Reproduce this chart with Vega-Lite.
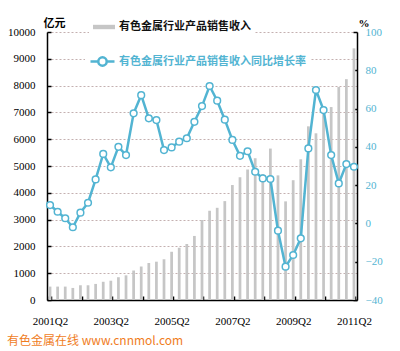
{
  "$schema": "https://vega.github.io/schema/vega-lite/v6.json",
  "width": 310,
  "height": 268,
  "autosize": {"type": "none"},
  "padding": {"left": 47, "top": 32, "right": 43, "bottom": 51},
  "background": "white",
  "config": {
    "view": {"stroke": null},
    "font": "Liberation Sans Narrow",
    "axis": {"labelFont": "Liberation Sans Narrow", "labelFontSize": 11, "domainColor": "#000000", "tickColor": "#000000", "domainWidth": 1.5, "tickWidth": 1.5, "labelColor": "#000000"}
  },
  "data": {
    "values": [
      {"q": "2001Q2", "rev": 500, "g": 9.6},
      {"q": "2001Q3", "rev": 500, "g": 6.1},
      {"q": "2001Q4", "rev": 500, "g": 2.7},
      {"q": "2002Q1", "rev": 450, "g": -2},
      {"q": "2002Q2", "rev": 550, "g": 5.6},
      {"q": "2002Q3", "rev": 550, "g": 10.8},
      {"q": "2002Q4", "rev": 600, "g": 23},
      {"q": "2003Q1", "rev": 680, "g": 36.3},
      {"q": "2003Q2", "rev": 720, "g": 29.3},
      {"q": "2003Q3", "rev": 850, "g": 40},
      {"q": "2003Q4", "rev": 920, "g": 35.7},
      {"q": "2004Q1", "rev": 1100, "g": 57.5},
      {"q": "2004Q2", "rev": 1250, "g": 67},
      {"q": "2004Q3", "rev": 1380, "g": 54.9},
      {"q": "2004Q4", "rev": 1430, "g": 54},
      {"q": "2005Q1", "rev": 1520, "g": 38.3},
      {"q": "2005Q2", "rev": 1800, "g": 39.7},
      {"q": "2005Q3", "rev": 1950, "g": 42.7},
      {"q": "2005Q4", "rev": 2090, "g": 44.5},
      {"q": "2006Q1", "rev": 2390, "g": 53.1},
      {"q": "2006Q2", "rev": 2985, "g": 61.3},
      {"q": "2006Q3", "rev": 3330, "g": 71.8},
      {"q": "2006Q4", "rev": 3440, "g": 64.1},
      {"q": "2007Q1", "rev": 3690, "g": 54.2},
      {"q": "2007Q2", "rev": 4290, "g": 43.6},
      {"q": "2007Q3", "rev": 4580, "g": 35.3},
      {"q": "2007Q4", "rev": 4870, "g": 37.7},
      {"q": "2008Q1", "rev": 5290, "g": 27},
      {"q": "2008Q2", "rev": 4700, "g": 23.5},
      {"q": "2008Q3", "rev": 5650, "g": 23.2},
      {"q": "2008Q4", "rev": 4650, "g": -3.8},
      {"q": "2009Q1", "rev": 3680, "g": -22.6},
      {"q": "2009Q2", "rev": 4470, "g": -16.5},
      {"q": "2009Q3", "rev": 5250, "g": -7.8},
      {"q": "2009Q4", "rev": 6480, "g": 39.2},
      {"q": "2010Q1", "rev": 6220, "g": 69.7},
      {"q": "2010Q2", "rev": 7150, "g": 59.2},
      {"q": "2010Q3", "rev": 7200, "g": 35.7},
      {"q": "2010Q4", "rev": 7950, "g": 20.9},
      {"q": "2011Q1", "rev": 8240, "g": 31},
      {"q": "2011Q2", "rev": 9390, "g": 29.6}
    ]
  },
  "title": {
    "text": "有色金属在线  www.cnnmol.com",
    "orient": "bottom",
    "anchor": "start",
    "frame": "group",
    "dx": -40,
    "offset": 10,
    "color": "#f07d1e",
    "font": "Noto Sans CJK SC",
    "fontSize": 12,
    "fontWeight": "normal"
  },
  "encoding": {
    "x": {
      "field": "q",
      "type": "ordinal",
      "sort": null,
      "scale": {"paddingInner": 0.64, "paddingOuter": 0.22},
      "axis": {
        "title": null,
        "values": ["2001Q2","2002Q2","2003Q2","2004Q2","2005Q2","2006Q2","2007Q2","2008Q2","2009Q2","2010Q2","2011Q2"],
        "labelExpr": "toNumber(substring(datum.value,0,4)) % 2 == 1 ? datum.value : ''",
        "tickBand": "extent",
        "labelAngle": 0,
        "tickSize": -4,
        "labelPadding": 19,
        "grid": false
      }
    }
  },
  "layer": [
    {
      "mark": {"type": "bar"},
      "encoding": {
        "y": {
          "field": "rev",
          "type": "quantitative",
          "scale": {"domain": [0, 10000], "nice": false},
          "axis": {
            "title": "亿元",
            "titleAngle": 0,
            "titleAlign": "left",
            "titleBaseline": "bottom",
            "titleX": -4,
            "titleY": -4,
            "titleFont": "Noto Sans CJK SC",
            "titleFontSize": 11,
            "titleFontWeight": "bold",
            "format": "d",
            "values": [0,1000,2000,3000,4000,5000,6000,7000,8000,9000,10000],
            "tickSize": -4,
            "labelPadding": 16,
            "grid": true,
            "gridDash": [2, 2],
            "gridColor": "#c4b0b0",
            "gridWidth": 1
          }
        },
        "fill": {
          "datum": "有色金属行业产品销售收入",
          "scale": {"range": ["#c6c6c6"]},
          "legend": {
            "orient": "none",
            "legendX": 42,
            "legendY": -20,
            "title": null,
            "padding": 4,
            "fillColor": "white",
            "symbolType": "M-1,-0.2L1,-0.2L1,0.2L-1,0.2Z",
            "symbolSize": 484,
            "symbolStrokeWidth": 0,
            "labelFont": "Noto Sans CJK SC",
            "labelFontSize": 11,
            "labelFontWeight": "bold",
            "labelColor": "#111111",
            "labelOffset": 4,
            "labelLimit": 300
          }
        }
      }
    },
    {
      "mark": {
        "type": "line",
        "strokeWidth": 2.5,
        "point": {"filled": false, "fill": "white", "stroke": "#52b4d2", "strokeWidth": 1.5, "size": 45}
      },
      "encoding": {
        "y": {
          "field": "g",
          "type": "quantitative",
          "scale": {"domain": [-40, 100], "nice": false},
          "axis": {
            "orient": "right",
            "title": "%",
            "titleAngle": 0,
            "titleAlign": "left",
            "titleBaseline": "bottom",
            "titleX": 1,
            "titleY": -4,
            "titleFontSize": 11,
            "titleFontWeight": "bold",
            "values": [-40,-20,0,20,40,60,80,100],
            "tickSize": -4,
            "labelPadding": 12,
            "labelColor": "#52b4d2",
            "grid": false
          }
        },
        "stroke": {
          "datum": "有色金属行业产品销售收入同比增长率",
          "scale": {"range": ["#52b4d2"]},
          "legend": {
            "orient": "none",
            "legendX": 38,
            "legendY": 12,
            "title": null,
            "padding": 4,
            "fillColor": "white",
            "symbolType": "M-1,0L-0.35,0M0.35,0L1,0M0.35,0A0.35,0.35,0,1,1,-0.35,0A0.35,0.35,0,1,1,0.35,0",
            "symbolSize": 576,
            "symbolStrokeWidth": 2.5,
            "symbolFillColor": "white",
            "symbolStrokeColor": "#52b4d2",
            "labelFont": "Noto Sans CJK SC",
            "labelFontSize": 11,
            "labelFontWeight": "bold",
            "labelColor": "#52b4d2",
            "labelOffset": 3,
            "labelLimit": 300
          }
        }
      }
    }
  ],
  "resolve": {"scale": {"y": "independent", "fill": "independent", "stroke": "independent"}}
}
